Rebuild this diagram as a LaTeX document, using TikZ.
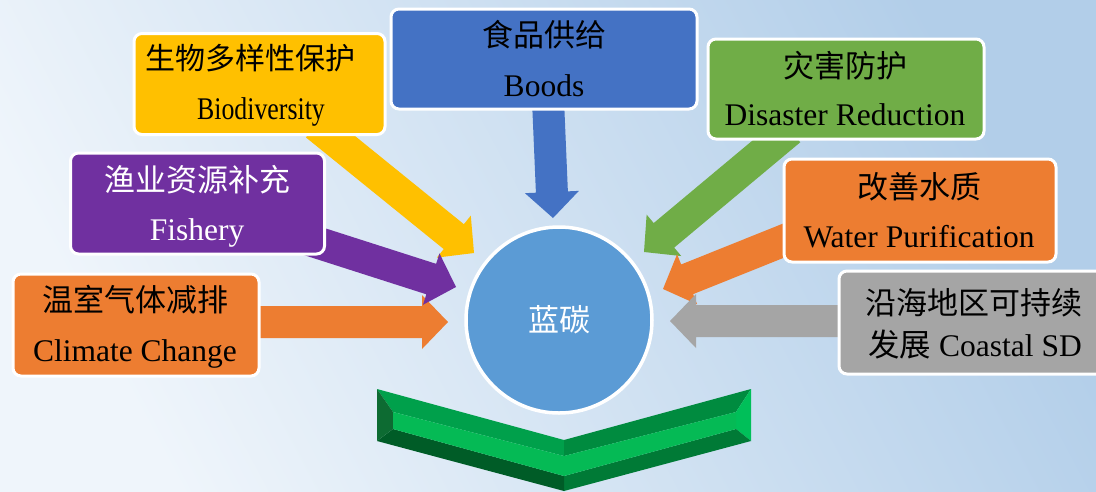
\documentclass[tikz,border=0pt]{standalone}
\usepackage{fontspec}
\usepackage{graphicx}
\setmainfont{Liberation Serif}
\newfontfamily\cjk{Noto Sans CJK SC}
\usetikzlibrary{calc}
\definecolor{bgA}{HTML}{EFF5FB}
\definecolor{bgB}{HTML}{B2CEE9}
\definecolor{cblue}{HTML}{4472C4}
\definecolor{cyellow}{HTML}{FFC000}
\definecolor{cgreen}{HTML}{70AD47}
\definecolor{cpurple}{HTML}{7030A0}
\definecolor{corange}{HTML}{ED7D31}
\definecolor{cgray}{HTML}{A5A5A5}
\definecolor{ccircle}{HTML}{5B9BD5}
\definecolor{gface}{HTML}{05BA55}
\definecolor{gtl}{HTML}{00A04B}
\definecolor{gtr}{HTML}{008B3F}
\definecolor{gle}{HTML}{0D6B32}
\definecolor{gre}{HTML}{00BF59}
\definecolor{gbl}{HTML}{005C27}
\definecolor{gbr}{HTML}{007A36}
\newcommand\blockarr[3]{%
  \path ($(#2)!26pt!(#1)$) coordinate (hb);
  \fill[#3] ($(#1)!16pt!90:(#2)$) -- ($(hb)!16pt!90:(#2)$) -- ($(hb)!27pt!90:(#2)$) -- (#2)
    -- ($(hb)!27pt!-90:(#2)$) -- ($(hb)!16pt!-90:(#2)$) -- ($(#1)!16pt!-90:(#2)$) -- cycle;}
\tikzset{
  box/.style={draw=white, line width=3pt, rounded corners=8pt, inner sep=0pt},
  zh/.style={anchor=base, inner sep=0pt, font=\cjk\fontsize{31}{31}\selectfont},
  en/.style={anchor=base, inner sep=0pt, font=\fontsize{31.5}{31.5}\selectfont},
}
\begin{document}
\begin{tikzpicture}[x=1pt,y=-1pt]
\useasboundingbox (0,0) rectangle (1096,491);
\clip (0,0) rectangle (1096,491);
\shade[bottom color=bgA, top color=bgB, shading angle=-62] (0,0) rectangle (1096,491);

% arrow ends
\coordinate (sbio) at (316,125);  \coordinate (tbio) at (474,253);
\coordinate (sclim) at (250,322); \coordinate (tclim) at (448,322);
\coordinate (sfish) at (300,237); \coordinate (tfish) at (456,287);
\coordinate (sboods) at (548,100); \coordinate (tboods) at (553,218);
\coordinate (sdis) at (790,130);  \coordinate (tdis) at (644,252);
\coordinate (swat) at (800,234);  \coordinate (twat) at (663,289);
\coordinate (scoast) at (850,321); \coordinate (tcoast) at (670,321);

\blockarr{sbio}{tbio}{cyellow}
\blockarr{sclim}{tclim}{corange}
\blockarr{sfish}{tfish}{cpurple}
\blockarr{sboods}{tboods}{cblue}
\blockarr{sdis}{tdis}{cgreen}
\blockarr{swat}{twat}{corange}
\blockarr{scoast}{tcoast}{cgray}

% boxes
\node[box, fill=cblue, minimum width=306, minimum height=100] (boods) at (544,59) {};
\node[box, fill=cyellow, minimum width=251, minimum height=101] (bio) at (259.5,84) {};
\node[box, fill=cgreen, minimum width=276, minimum height=100] (dis) at (846,89) {};
\node[box, fill=cpurple, minimum width=254, minimum height=101] (fish) at (197.5,203.5) {};
\node[box, fill=corange, minimum width=272, minimum height=103] (wat) at (920,210.5) {};
\node[box, fill=corange, minimum width=246, minimum height=102] (clim) at (136,325) {};
\node[box, fill=cgray, minimum width=276, minimum height=103] (coast) at (977,322.5) {};

% texts
\node[zh] (boods1) at (544,46) {食品供给};
\node[en] (boods2) at (544,96) {Boods};
\node[zh, font=\cjk\fontsize{30}{30}\selectfont] (bio1) at (250,69) {生物多样性保护};
\node[en] (bio2) at (261,119) {\scalebox{0.82}[1]{Biodiversity}};
\node[zh] (dis1) at (845,77) {灾害防护};
\node[en] (dis2) at (845,125) {Disaster Reduction};
\node[zh, text=white] (fish1) at (197,191) {渔业资源补充};
\node[en, text=white] (fish2) at (197,240) {Fishery};
\node[zh] (wat1) at (919,198) {改善水质};
\node[en] (wat2) at (919,247) {Water Purification};
\node[zh] (clim1) at (135,311) {温室气体减排};
\node[en] (clim2) at (135,361) {Climate Change};
\node[zh] (coast1) at (974,314) {沿海地区可持续};
\node[en] (coast2) at (975,356) {{\cjk 发展} Coastal SD};

% centre circle
\node[circle, fill=ccircle, draw=white, line width=3.5pt, minimum size=186, inner sep=0pt,
  text=white, font=\cjk\fontsize{31}{31}\selectfont] (bc) at (559,320) {蓝碳};

% chevron
\coordinate (O1) at (377,389); \coordinate (O2) at (564,440); \coordinate (O3) at (751,389);
\coordinate (O4) at (751,441); \coordinate (O5) at (564,491); \coordinate (O6) at (377,441);
\coordinate (I1) at (393,412); \coordinate (I2) at (564,456); \coordinate (I3) at (736,412);
\coordinate (I4) at (736,429); \coordinate (I5) at (564,476); \coordinate (I6) at (393,429);
\fill[gtl] (O1) -- (O2) -- (I2) -- (I1) -- cycle;
\fill[gtr] (O2) -- (O3) -- (I3) -- (I2) -- cycle;
\fill[gre] (O3) -- (O4) -- (I4) -- (I3) -- cycle;
\fill[gbr] (O4) -- (O5) -- (I5) -- (I4) -- cycle;
\fill[gbl] (O5) -- (O6) -- (I6) -- (I5) -- cycle;
\fill[gle] (O6) -- (O1) -- (I1) -- (I6) -- cycle;
\fill[gface] (I1) -- (I2) -- (I3) -- (I4) -- (I5) -- (I6) -- cycle;
\end{tikzpicture}
\end{document}
